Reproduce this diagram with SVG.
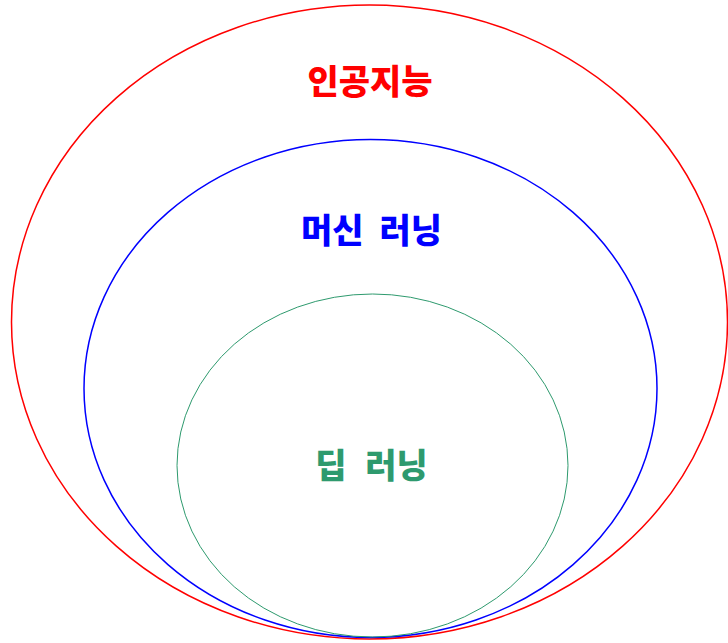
<svg xmlns="http://www.w3.org/2000/svg" width="728" height="643" viewBox="0 0 728 643">
<style>
.e{fill:none}
.t{font-family:"Noto Sans CJK KR","Noto Sans",sans-serif;font-weight:900;font-size:34px;text-anchor:middle;dominant-baseline:central;word-spacing:8px}
</style>
<rect width="728" height="643" fill="#fff"/>
<g id="ai">
<ellipse class="e" cx="369.5" cy="322" rx="358" ry="317" stroke="#ff0000" stroke-width="1.5"/>
<text class="t" x="370" y="79" fill="#ff0000">인공지능</text>
</g>
<g id="ml">
<ellipse class="e" cx="370.5" cy="388.5" rx="286.5" ry="249" stroke="#0000ff" stroke-width="1.5"/>
<text class="t" x="371.5" y="228" fill="#0000ff">머신 러닝</text>
</g>
<g id="dl">
<ellipse class="e" cx="372.5" cy="465.5" rx="195.5" ry="171.5" stroke="#2e9a6e" stroke-width="1"/>
<text class="t" x="371.5" y="463" fill="#2e9a6e" style="word-spacing:11px">딥 러닝</text>
</g>
</svg>
